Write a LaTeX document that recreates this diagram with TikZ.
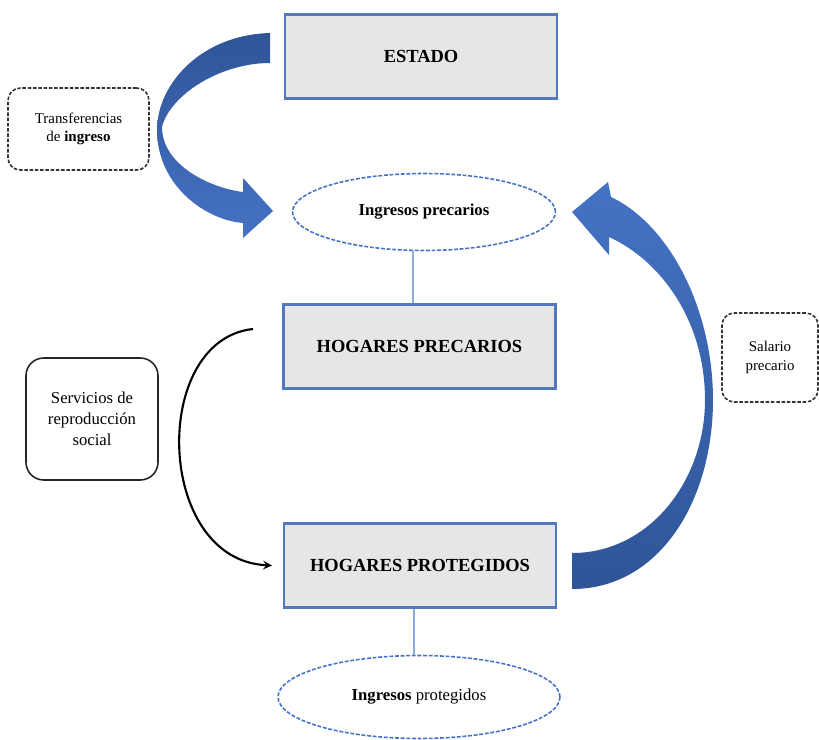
\documentclass[tikz,border=0pt]{standalone}
\usepackage{fontspec}
\setmainfont{Liberation Serif}
\usetikzlibrary{arrows,positioning,calc,shapes}
\definecolor{boxblue}{RGB}{84,120,190}
\definecolor{boxgray}{RGB}{231,230,230}
\definecolor{darkarrow}{RGB}{47,85,151}
\definecolor{lightarrow}{RGB}{68,114,196}
\definecolor{linkblue}{RGB}{142,170,219}

\begin{document}
\begin{tikzpicture}[x=0.02cm,y=-0.02cm,
  actor/.style={draw=boxblue,line width=1.2pt,fill=boxgray,minimum width=5.44cm,minimum height=1.68cm,font=\bfseries\fontsize{10.5}{12}\selectfont},
  ingreso/.style={ellipse,draw=lightarrow,line width=0.9pt,dash pattern=on 2.2pt off 1pt,inner sep=0pt,font=\fontsize{9.5}{11}\selectfont},
  flujo/.style={rounded corners=7pt,draw=black!80,line width=0.9pt,dash pattern=on 2pt off 1pt,align=center,inner sep=0pt,font=\fontsize{8.5}{10.5}\selectfont},
  servicio/.style={rounded corners=10pt,draw=black!85,line width=0.9pt,align=center,inner sep=0pt,font=\fontsize{9.5}{12}\selectfont},
  enlace/.style={draw=linkblue,line width=0.8pt}]
\useasboundingbox (0,0) rectangle (819,740);

% big curved arrows
\shade[top color=darkarrow,bottom color=lightarrow]
  (270,33) .. controls (200,35) and (157,85) .. (157,130)
  .. controls (157,185) and (205,220) .. (243,223) -- (243,238) -- (273,211) -- (243,178) -- (243,192)
  .. controls (210,188) and (162,165) .. (162,127)
  .. controls (170,95) and (220,63) .. (270,63) -- cycle;
\shade[top color=lightarrow,bottom color=darkarrow]
  (572,553) .. controls (650,553) and (705,480) .. (705,400)
  .. controls (705,320) and (660,260) .. (609,237) -- (609,255) -- (572,212) -- (608,182) -- (611,197)
  .. controls (670,225) and (713,310) .. (713,400)
  .. controls (713,500) and (660,589) .. (572,589) -- cycle;

% central column
\node[actor] (estado) at (421,56.5) {ESTADO};
\node[ingreso,minimum width=5.26cm,minimum height=1.54cm] (ipre) at (424,212) {\bfseries Ingresos precarios};
\node[actor] (hpre) at (419.5,346.5) {HOGARES PRECARIOS};
\node[actor] (hpro) at (420,565.5) {HOGARES PROTEGIDOS};
\node[ingreso,minimum width=5.64cm,minimum height=1.66cm] (ipro) at (419,697) {\textbf{Ingresos} protegidos};

% side labels
\node[flujo,minimum width=2.82cm,minimum height=1.64cm] (transf) at (78.5,129) {Transferencias\\de \textbf{ingreso}};
\node[flujo,minimum width=1.92cm,minimum height=1.78cm] (salario) at (770,357.5) {Salario\\precario};
\node[servicio,minimum width=2.64cm,minimum height=2.44cm] (serv) at (92,419) {Servicios de\\reproducción\\social};

\draw[enlace] ([xshift=-0.22cm]ipre.south) -- ([xshift=-0.22cm]ipre.south |- hpre.north);
\draw[enlace] ([xshift=-0.12cm]hpro.south) -- ([xshift=-0.12cm]hpro.south |- ipro.north);

\coordinate (salida) at (253,329);
\draw[-stealth,line width=1.2pt] (salida) .. controls (150,340) and (155,560) .. ([xshift=-0.22cm]hpro.west);
\end{tikzpicture}
\end{document}
